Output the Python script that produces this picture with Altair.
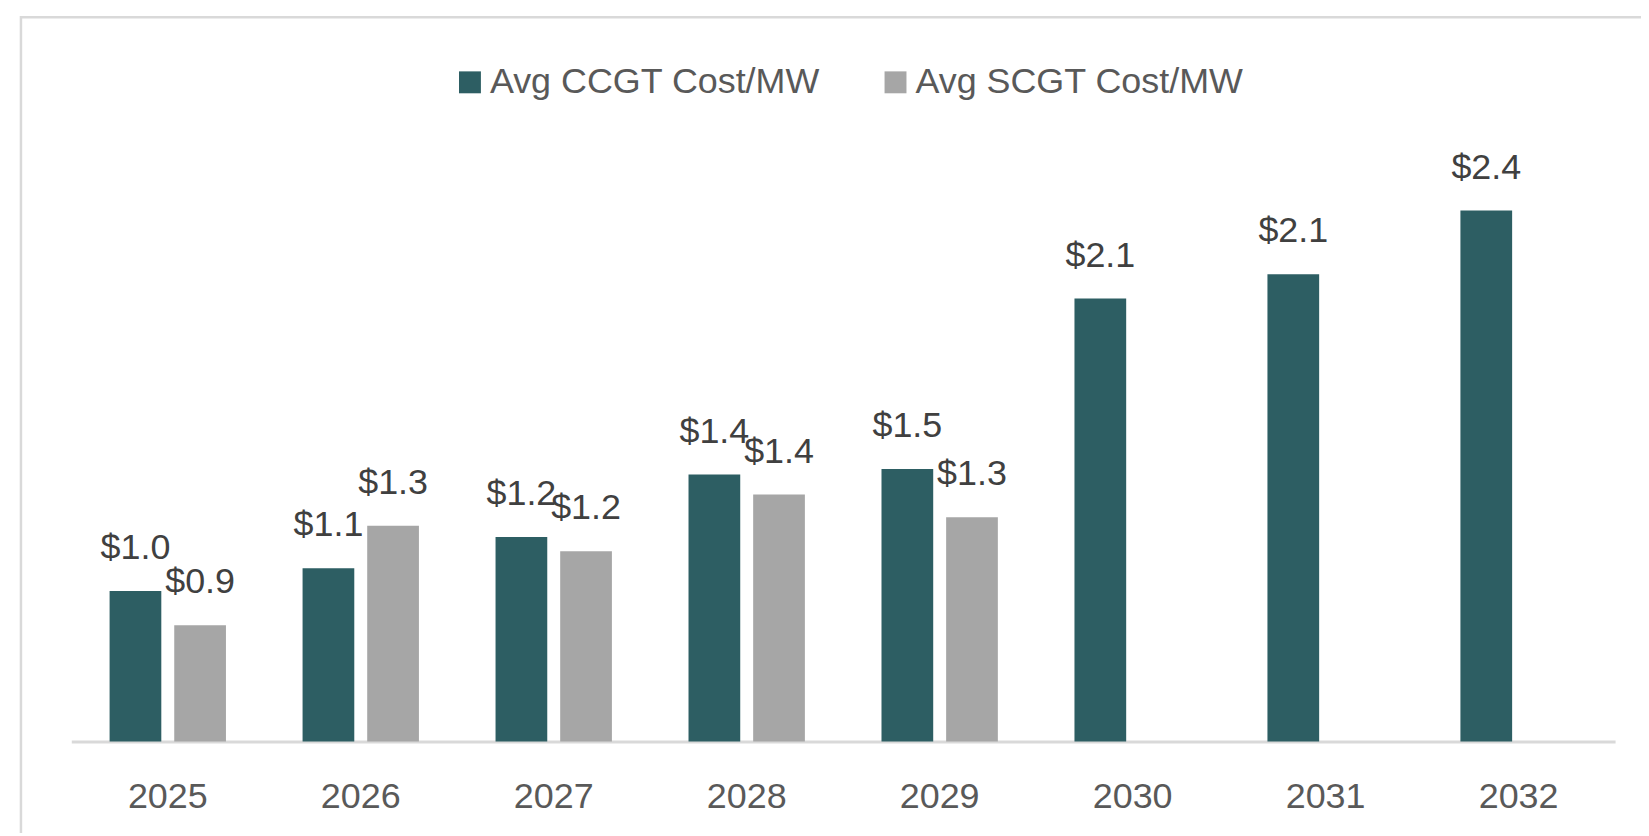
import altair as alt
import pandas as pd

years = ["2025", "2026", "2027", "2028", "2029", "2030", "2031", "2032"]
series = ["Avg CCGT Cost/MW", "Avg SCGT Cost/MW"]
ccgt = [1.03, 1.11, 1.22, 1.44, 1.46, 2.06, 2.145, 2.37]
scgt = [0.91, 1.26, 1.17, 1.37, 1.29, None, None, None]
colors = ["#2D5E63", "#A6A6A6"]

rows = []
for y, a, b in zip(years, ccgt, scgt):
    rows.append({"Year": y, "Series": series[0], "Value": a})
    if b is not None:
        rows.append({"Year": y, "Series": series[1], "Value": b})
df = pd.DataFrame(rows)

FONT = "Liberation Sans"

x = alt.X("Year:N", sort=years,
          scale=alt.Scale(paddingInner=0.397, paddingOuter=0.1985),
          axis=alt.Axis(title=None, labelAngle=0, tickSize=0, labelPadding=38,
                        labelFontSize=36, labelFont=FONT, labelColor="#595959",
                        domainColor="#D9D9D9", domainWidth=3, grid=False))
xo = alt.XOffset("Series:N", sort=series,
                 scale=alt.Scale(domain=series, paddingInner=0.2, paddingOuter=0))
y = alt.Y("Value:Q", scale=alt.Scale(domain=[0.5, 2.6], zero=False, nice=False),
          axis=None)

base = alt.Chart(df)

bars = base.mark_bar().encode(
    x=x, xOffset=xo, y=y, y2=alt.datum(0.5),
    color=alt.Color("Series:N", sort=series,
                    scale=alt.Scale(domain=series, range=colors),
                    legend=alt.Legend(title=None, orient="none", direction="horizontal",
                                      legendX=382, legendY=-81,
                                      symbolType="square", symbolSize=484,
                                      symbolStrokeWidth=0,
                                      labelFont=FONT, labelFontSize=36,
                                      labelColor="#595959", labelOffset=2,
                                      columnPadding=57, labelLimit=600)),
)

labels = base.mark_text(font=FONT, fontSize=36, color="#404040",
                        baseline="alphabetic", dy=-32).encode(
    x=x, xOffset=xo, y=y,
    text=alt.Text("Value:Q", format="$.1f"),
)

frame = alt.Chart(pd.DataFrame({"a": [0]})).mark_rect(
    fillOpacity=0, stroke="#D9D9D9", strokeWidth=2.5
).encode(x=alt.value(-50.5), x2=alt.value(1700), y=alt.value(-128.2), y2=alt.value(900))

chart = alt.layer(frame, bars, labels).properties(
    width=1549, height=598.5,
    autosize=alt.AutoSizeParams(type="none"),
    padding={"left": 63.5, "top": 136.2, "right": 26, "bottom": 90},
).configure_view(stroke=None)

chart.save("out.html", embed_options={"renderer": "svg", "actions": False})
